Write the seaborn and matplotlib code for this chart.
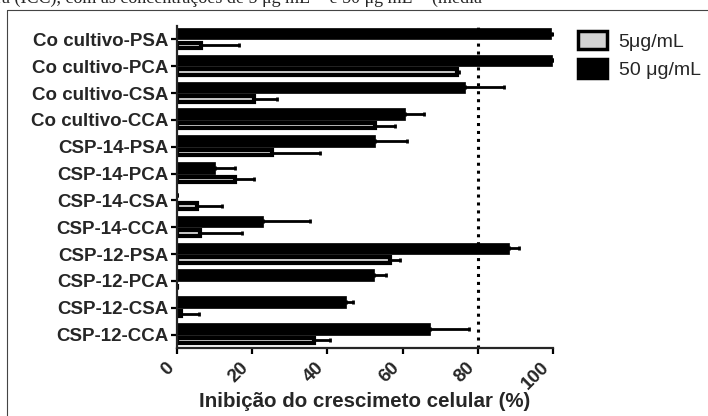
import numpy as np
import pandas as pd
import seaborn as sns
from matplotlib import pyplot as plt
from matplotlib.patches import Patch
from matplotlib.lines import Line2D

categorias = ['Co cultivo-PSA', 'Co cultivo-PCA', 'Co cultivo-CSA', 'Co cultivo-CCA',
              'CSP-14-PSA', 'CSP-14-PCA', 'CSP-14-CSA', 'CSP-14-CCA',
              'CSP-12-PSA', 'CSP-12-PCA', 'CSP-12-CSA', 'CSP-12-CCA']
inib_50 = [99.6, 99.8, 76.7, 60.7, 52.6, 10.0, 0.0, 23.0, 88.2, 52.3, 44.9, 67.4]
erro_50 = [0.3, 0.2, 10.2, 5.1, 8.6, 5.3, 0.0, 12.4, 2.7, 3.4, 1.8, 10.2]
inib_5 = [6.5, 74.5, 20.4, 52.7, 25.3, 15.5, 5.3, 6.2, 56.7, 0.0, 1.0, 36.4]
erro_5 = [10.0, 0.5, 6.2, 5.4, 12.8, 4.9, 6.7, 11.1, 2.5, 0.0, 4.9, 4.4]
conc_labels = ['50 μg/mL', '5μg/mL']
x_ticks = [0, 20, 40, 60, 80, 100]
linha_corte = 80

sns.set_style('ticks')
plt.rcParams['font.family'] = ['Liberation Sans', 'DejaVu Sans']

df = pd.DataFrame({
    'amostra': categorias * 2,
    'inibicao': inib_50 + inib_5,
    'conc': [conc_labels[0]] * len(categorias) + [conc_labels[1]] * len(categorias),
})

fig = plt.figure(figsize=(7.08, 4.16), dpi=100)
ax = fig.add_axes([0.25, 0.1635, 0.531, 0.774])

sns.barplot(data=df, x='inibicao', y='amostra', hue='conc', hue_order=conc_labels,
            palette=['black', '#d4d4d4'], width=0.86, dodge=True, orient='h',
            legend=False, edgecolor='black', linewidth=0.5, ax=ax)

# thin grey bars with heavy black outline, like the original
for p in ax.containers[1]:
    c = p.get_y() + p.get_height() / 2
    p.set_height(0.2)
    p.set_y(c - 0.1)
    p.set_linewidth(3)

for cont, erros in zip(ax.containers, [erro_50, erro_5]):
    ys = [p.get_y() + p.get_height() / 2 for p in cont]
    xs = [p.get_width() for p in cont]
    ax.errorbar(xs, ys, xerr=[np.zeros(len(erros)), erros], fmt='none',
                ecolor='black', elinewidth=2, capsize=1.6, capthick=2)

ax.axvline(linha_corte, color='black', lw=2.2, ls=(0, (1, 1.6)))

ax.set_xlim(0, 100)
ax.set_ylim(len(categorias) - 0.5, -0.5)
ax.set_xticks(x_ticks)
ax.set_xticklabels([str(t) for t in x_ticks], rotation=45, ha='right',
                   fontsize=13.5, fontweight='bold')
ax.set_yticks(range(len(categorias)))
ax.set_yticklabels(categorias, fontsize=13.5, fontweight='bold')
ax.set_ylabel('')
ax.set_xlabel('Inibição do crescimeto celular (%)', fontsize=14.8,
              fontweight='bold', labelpad=-1)
sns.despine(ax=ax)
for s in ['left', 'bottom']:
    ax.spines[s].set_linewidth(1.6)
ax.tick_params(axis='both', width=1.6, length=4, color='black', pad=2)
ax.tick_params(axis='x', pad=4)

handles = [Patch(facecolor='#d4d4d4', edgecolor='black', linewidth=2.5),
           Patch(facecolor='black', edgecolor='black', linewidth=2.5)]
fig.legend(handles, ['5μg/mL', '50 μg/mL'], loc='upper left',
           bbox_to_anchor=(568 / 708, 1 - 21 / 416), frameon=False,
           fontsize=14, handlelength=1.5, handleheight=1.1,
           handletextpad=0.6, labelspacing=0.45, borderpad=0)

# page frame and cropped caption above the figure
fig.add_artist(Line2D([7 / 708, 7 / 708], [0, 1 - 10 / 416], color='#444444', lw=0.8))
fig.add_artist(Line2D([7 / 708, 1], [1 - 10 / 416, 1 - 10 / 416], color='#444444', lw=0.8))
fig.text(-0.005, 1 - 3 / 416, 'ra (ICC), com as concentrações de 5 μg mL⁻¹ e 50 μg mL⁻¹ (média',
         family=['Liberation Serif', 'DejaVu Serif'], fontsize=13, va='baseline')

fig.savefig('out.png', dpi=100)
